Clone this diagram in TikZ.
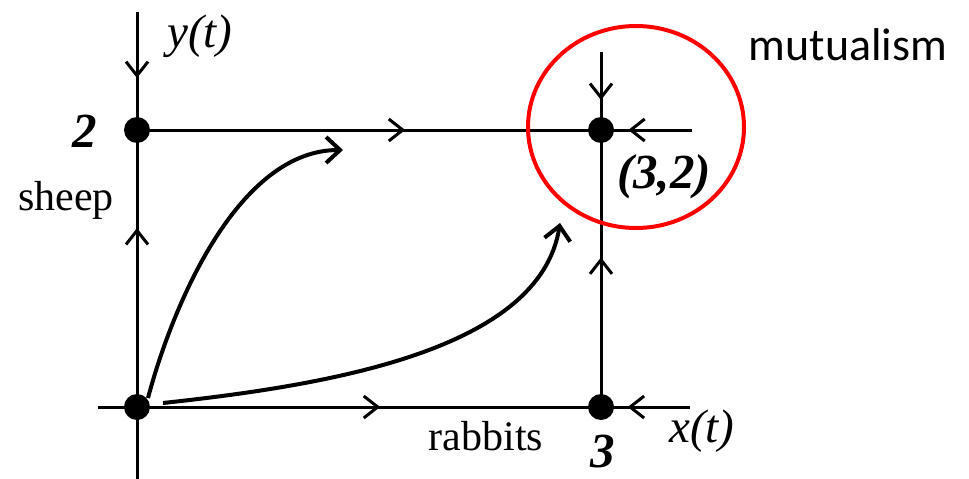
\documentclass[tikz,border=0pt]{standalone}
\usepackage{fontspec}
\setmainfont{Liberation Serif}[ItalicFont={Liberation Serif Italic},BoldFont={Liberation Serif Bold},BoldItalicFont={Liberation Serif Bold Italic}]
\newfontfamily\calibrifont{Carlito}
\usetikzlibrary{arrows.meta,decorations.markings}
\tikzset{
  axis/.style={line width=3pt},
  midarr/.style={postaction={decorate,decoration={markings,
    mark=at position #1 with {\arrow{Straight Barb[length=14pt,width=22pt,line width=3pt]}}}}},
  traj/.style={line width=4pt,-{Straight Barb[length=14pt,width=26pt,line width=4pt]}},
  eqpt/.style={circle,fill,inner sep=0pt,minimum size=26pt},
  txt/.style={font=\fontsize{42}{46}\selectfont},
  vartxt/.style={font=\fontsize{47}{50}\selectfont\itshape},
  numtxt/.style={font=\fontsize{49}{52}\selectfont\bfseries\itshape},
}
\begin{document}
\begin{tikzpicture}[x=1pt,y=-1pt]
\useasboundingbox (0,0) rectangle (969,479);
% equilibrium points
\node[eqpt] (O) at (137,407) {};
\node[eqpt] (S) at (137,130) {};
\node[eqpt] (R) at (601,407) {};
\node[eqpt] (C) at (601,130) {};
\coordinate (ytop) at (137,12);\coordinate (ybot) at (137,479);
\coordinate (xleft) at (98,407);\coordinate (xright) at (690,407);
\coordinate (sright) at (692,130);\coordinate (ctop) at (601,52);
% axes and nullclines
\draw[axis,midarr=0.56] (ytop)--(S.center);
\draw[axis,midarr=0.646] (O.center)--(S.center);
\draw[axis] (O.center)--(ybot);
\draw[axis] (xleft)--(O.center);
\draw[axis,midarr=0.524] (O.center)--(R.center);
\draw[axis,midarr=0.70] (xright)--(R.center);
\draw[axis,midarr=0.578] (S.center)--(C.center);
\draw[axis,midarr=0.70] (sright)--(C.center);
\draw[axis,midarr=0.615] (ctop)--(C.center);
\draw[axis,midarr=0.54] (R.center)--(C.center);
% trajectories
\coordinate (t1s) at (148,398);\coordinate (t1) at (343,150);
\coordinate (t2s) at (163,403);\coordinate (t2) at (560,223);
\draw[traj] (t1s) .. controls (174,300) and (240,150) .. (t1);
\draw[traj] (t2s) .. controls (330,385) and (540,350) .. (t2);
% mutualism circle
\draw[red,line width=4pt] (636,127) ellipse [x radius=108pt,y radius=101pt];
% labels
\node[vartxt] (ylab) at (200,36) {y(t)};
\node[vartxt] (xlab) at (702,431) {x(t)};
\node[numtxt] (twolab) at (85,131) {2};
\node[numtxt] (threelab) at (603,452) {3};
\node[numtxt] (eqlab) at (664,177) {(3,2)};
\node[txt,anchor=base] (sheeplab) at (66,210) {sheep};
\node[txt,anchor=base] (rabbitslab) at (486,450) {rabbits};
\node[font=\calibrifont\fontsize{46}{50}\selectfont] (mutlab) at (848,45) {mutualism};
\end{tikzpicture}
\end{document}
